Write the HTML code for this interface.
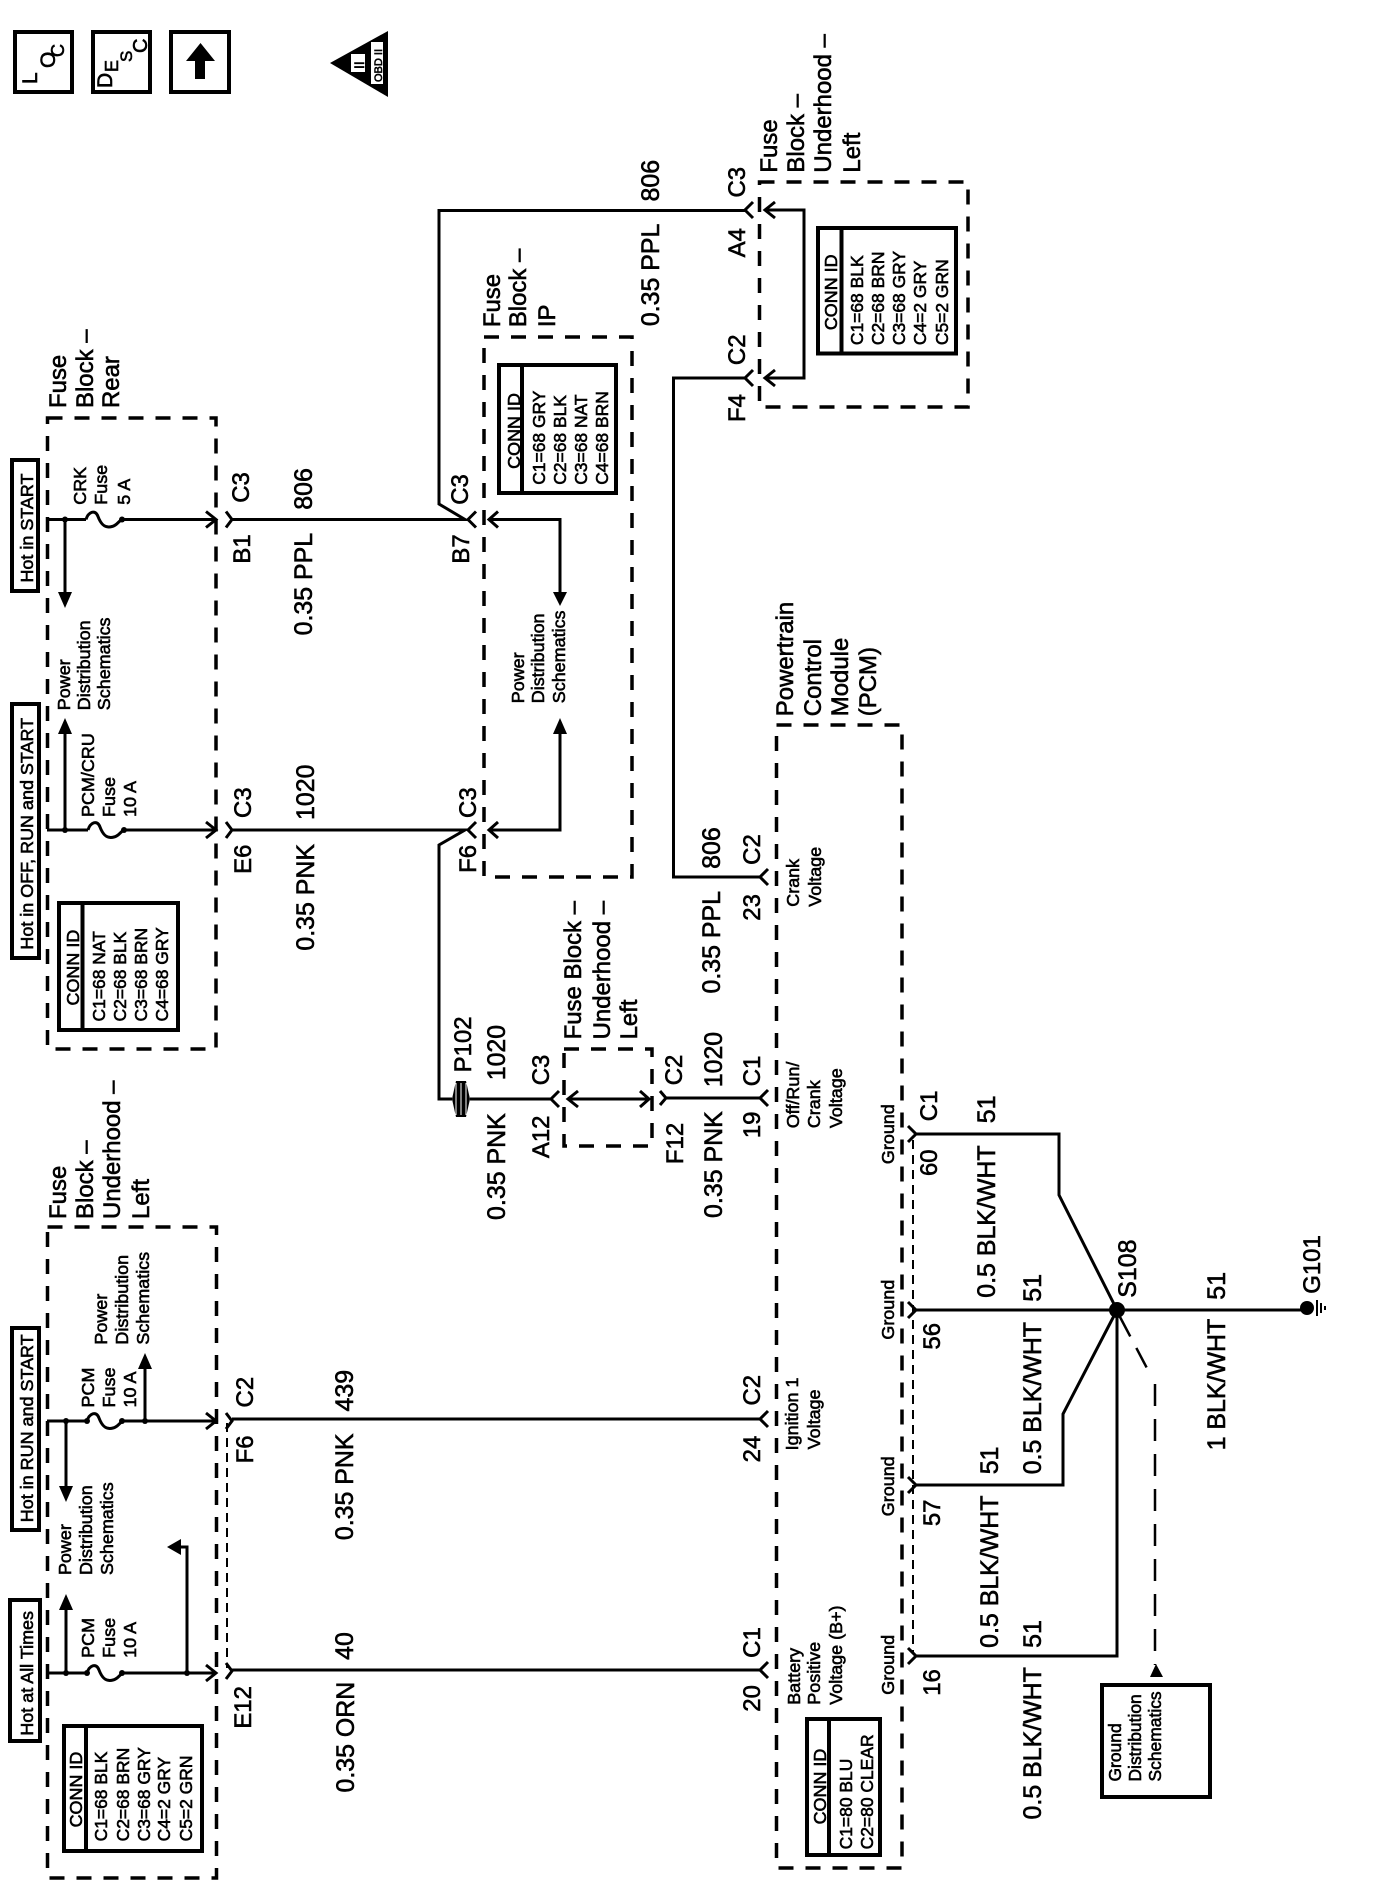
<!DOCTYPE html>
<html><head><meta charset="utf-8">
<style>
html,body{margin:0;padding:0;background:#fff}
svg{display:block}
text{font-family:"Liberation Sans",sans-serif;fill:#000;stroke:#000;stroke-width:.6}
.a{font-size:24px}.b{font-size:25px}.c{font-size:18px}.d{font-size:17.5px}
.w{fill:none;stroke:#000;stroke-width:3}
.t{fill:none;stroke:#000;stroke-width:4}
.x{fill:none;stroke:#000;stroke-width:3.5;stroke-dasharray:15 12}
.n{fill:none;stroke:#000;stroke-width:2;stroke-dasharray:9 6}
</style></head><body>
<svg xmlns="http://www.w3.org/2000/svg" width="1376" height="1900" viewBox="0 0 1376 1900">
<rect width="1376" height="1900" fill="#fff"/>
<!-- icons -->
<rect class="t" x="15" y="32" width="57" height="60"/>
<rect class="t" x="93" y="32" width="57" height="60"/>
<rect class="t" x="171" y="32" width="58" height="60"/>
<polygon points="200.5,43 215,61 205,61 205,79 195,79 195,61 186,61"/>
<text transform="translate(37 84)rotate(-90)" style="font-size:21px">L</text>
<text transform="translate(55 68)rotate(-90)" style="font-size:21px">O</text>
<text transform="translate(64 57)rotate(-90)" style="font-size:18px">C</text>
<text transform="translate(112 88)rotate(-90)" style="font-size:21px">D</text>
<text transform="translate(118 72)rotate(-90)" style="font-size:18px">E</text>
<text transform="translate(132 62)rotate(-90)" style="font-size:17px">S</text>
<text transform="translate(147 53)rotate(-90)" style="font-size:20px">C</text>
<polygon points="330,63 388,31 388,97"/>
<rect x="371" y="42" width="12" height="42" fill="#fff"/>
<rect x="351" y="54" width="14" height="18" fill="#fff"/>
<text transform="translate(382 82)rotate(-90)" style="font-size:11px">OBD II</text>
<text transform="translate(364 69)rotate(-90)" style="font-size:14px">II</text>

<!-- dashed boxes -->
<rect class="x" x="47.5" y="418" width="168.5" height="631"/>
<rect class="x" x="484" y="337" width="148" height="540"/>
<rect class="x" x="759.5" y="182" width="208.5" height="225"/>
<rect class="x" x="564" y="1049" width="88" height="97"/>
<rect class="x" x="47.5" y="1227" width="169" height="651"/>
<rect class="x" x="776.5" y="725" width="125.5" height="1143"/>
<path class="n" d="M227 1423V1668M913 1140V1652"/>

<!-- hot boxes -->
<rect class="t" x="12" y="460" width="26" height="131"/>
<rect class="t" x="12" y="704" width="27" height="254"/>
<rect class="t" x="12" y="1328" width="27" height="202"/>
<rect class="t" x="10" y="1600" width="30" height="141"/>

<!-- wire CRK -->
<path class="w" d="M47 519.5H86M122 519.5H216M206 511.5L216 519.5L206 527.5"/>
<path class="w" d="M226 511.5L232 519.5L226 527.5M232 519.5H465L439 504V210.5H745"/>
<path class="w" d="M476 511.5L468 519.5L476 527.5"/>
<path class="w" d="M498 511.5L489 519.5L498 527.5M489 519.5H560V595"/>
<polygon points="560,606 553,592 567,592"/>
<path class="w" d="M65 519.5V595"/>
<polygon points="65,608 58,592 72,592"/>
<path class="w" d="M86 519.5c2,-7 9,-11 12,-3c3,8 7,12 14,10c5,-1 6,-5 10,-7"/>
<circle cx="65" cy="519.5" r="3"/><circle cx="122" cy="519.5" r="3"/>

<!-- wire PCM/CRU -->
<path class="w" d="M47 830H88M124 830H216M206 822L216 830L206 838"/>
<path class="w" d="M226 822L232 830L226 838M232 830H465L439 845V1099H452"/>
<path class="w" d="M476 822L468 830L476 838"/>
<path class="w" d="M498 822L489 830L498 838M489 830H560V730"/>
<polygon points="560,718 553,734 567,734"/>
<path class="w" d="M65 830V730"/>
<polygon points="65,718 58,734 72,734"/>
<path class="w" d="M88 830c2,-7 9,-11 12,-3c3,8 7,12 14,10c5,-1 6,-5 10,-7"/>
<circle cx="65" cy="830" r="3"/><circle cx="124" cy="830" r="3"/>

<!-- P102 -->
<path d="M452 1099L456 1081H466L470 1099L466 1117H456Z" fill="#000"/>
<path d="M456 1083V1115M461 1083V1115M466 1083V1115" stroke="#fff" stroke-width="1"/>
<path class="w" d="M470 1099H551M559 1091L551 1099L559 1107"/>
<path class="w" d="M578 1091L568 1099L578 1107M568 1099H649M640 1091L649 1099L640 1107"/>
<path class="w" d="M660 1091L666 1098L660 1105M666 1098H760M768 1090L760 1098L768 1106"/>

<!-- right side 806 -->
<path class="w" d="M753 202L745 210L753 218"/>
<path class="w" d="M775 202L765 210L775 218M765 210H804V378H765M775 370L765 378L775 386"/>
<path class="w" d="M753 370L745 378L753 386M745 378H673.5V877H760M768 869L760 877L768 885"/>

<!-- PCM wires -->
<path class="w" d="M47 1421H87M122 1421H216M206 1413L216 1421L206 1429"/>
<path class="w" d="M226 1413L232 1421L226 1429M232 1419H760M768 1411L760 1419L768 1427"/>
<path class="w" d="M87 1421c2,-7 9,-11 12,-3c3,8 7,12 14,10c5,-1 6,-5 10,-7"/>
<circle cx="87" cy="1421" r="3"/><circle cx="122" cy="1421" r="3"/><circle cx="66" cy="1421" r="3"/><circle cx="145" cy="1421" r="3"/>
<path class="w" d="M145 1421V1366"/>
<polygon points="145,1353 138,1369 152,1369"/>
<path class="w" d="M66 1421V1490"/>
<polygon points="66,1502 59,1486 73,1486"/>

<path class="w" d="M47 1673H87M122 1673H216M206 1665L216 1673L206 1681"/>
<path class="w" d="M226 1663L232 1671L226 1679M232 1670H760M768 1662L760 1670L768 1678"/>
<path class="w" d="M87 1673c2,-7 9,-11 12,-3c3,8 7,12 14,10c5,-1 6,-5 10,-7"/>
<circle cx="87" cy="1673" r="3"/><circle cx="122" cy="1673" r="3"/><circle cx="66" cy="1673" r="3"/><circle cx="187" cy="1673" r="3"/>
<path class="w" d="M66 1673V1608"/>
<polygon points="66,1594 59,1610 73,1610"/>
<path class="w" d="M187 1673V1547H172"/>
<polygon points="167,1547 181,1539 181,1555"/>

<!-- grounds -->
<path class="w" d="M916 1134H1059V1195L1117 1310"/>
<path class="w" d="M908 1126L916 1134L908 1142"/>
<path class="w" d="M916 1310H1306"/>
<path class="w" d="M908 1302L916 1310L908 1318"/>
<path class="w" d="M916 1485H1063V1414L1117 1310"/>
<path class="w" d="M908 1477L916 1485L908 1493"/>
<path class="w" d="M916 1656H1117V1310"/>
<path class="w" d="M908 1648L916 1656L908 1664"/>
<circle cx="1117" cy="1310" r="8"/>
<circle cx="1307" cy="1308" r="7"/>
<path d="M1317 1300V1316M1321 1303V1313M1325 1306V1310" stroke="#000" stroke-width="2"/>
<path d="M1120 1317L1149 1372M1155 1384V1665" style="fill:none;stroke:#000;stroke-width:2.5;stroke-dasharray:22 13"/>
<polygon points="1156,1664 1150,1677 1163,1677"/>
<rect class="t" x="1102" y="1685" width="108" height="112"/>

<!-- conn id boxes -->
<path class="t" d="M59 903H178V1030H59ZM82.5 903V1030"/>
<path class="t" d="M499 365H616V493H499ZM522 365V493"/>
<path class="t" d="M818 228H956V353.5H818ZM841.5 228V353.5"/>
<path class="t" d="M64 1726H202V1851H64ZM86 1726V1851"/>
<path class="t" d="M807 1719H880V1855H807ZM829 1719V1855"/>

<g transform="translate(0 1) scale(1 .9975)">
<text transform="translate(33 583)rotate(-90)" class="c">Hot in START</text>
<text transform="translate(33 951)rotate(-90)" class="c">Hot in OFF, RUN and START</text>
<text transform="translate(33 1525)rotate(-90)" class="c">Hot in RUN and START</text>
<text transform="translate(33 1739)rotate(-90)" class="c">Hot at All Times</text>
<!-- box labels -->
<text transform="translate(66 408)rotate(-90)" class="a">Fuse</text>
<text transform="translate(93 408)rotate(-90)" class="a">Block –</text>
<text transform="translate(119 408)rotate(-90)" class="a">Rear</text>
<text transform="translate(500 327)rotate(-90)" class="a">Fuse</text>
<text transform="translate(526 327)rotate(-90)" class="a">Block –</text>
<text transform="translate(555 327)rotate(-90)" class="a">IP</text>
<text transform="translate(777 172)rotate(-90)" class="a">Fuse</text>
<text transform="translate(804 172)rotate(-90)" class="a">Block –</text>
<text transform="translate(831 172)rotate(-90)" class="a">Underhood –</text>
<text transform="translate(860 172)rotate(-90)" class="a">Left</text>
<text transform="translate(66 1221)rotate(-90)" class="a">Fuse</text>
<text transform="translate(93 1221)rotate(-90)" class="a">Block –</text>
<text transform="translate(120 1221)rotate(-90)" class="a">Underhood –</text>
<text transform="translate(149 1221)rotate(-90)" class="a">Left</text>
<text transform="translate(581 1041)rotate(-90)" class="a">Fuse Block –</text>
<text transform="translate(610 1041)rotate(-90)" class="a">Underhood –</text>
<text transform="translate(637 1041)rotate(-90)" class="a">Left</text>
<text transform="translate(793 717)rotate(-90)" class="a">Powertrain</text>
<text transform="translate(821 717)rotate(-90)" class="a">Control</text>
<text transform="translate(848 717)rotate(-90)" class="a">Module</text>
<text transform="translate(876 717)rotate(-90)" class="a">(PCM)</text>

<!-- fuses -->
<text transform="translate(86 505)rotate(-90)" class="c">CRK</text>
<text transform="translate(107 505)rotate(-90)" class="c">Fuse</text>
<text transform="translate(130 505)rotate(-90)" class="c">5 A</text>
<text transform="translate(94 818)rotate(-90)" class="c">PCM/CRU</text>
<text transform="translate(115 818)rotate(-90)" class="c">Fuse</text>
<text transform="translate(136 818)rotate(-90)" class="c">10 A</text>
<text transform="translate(94 1410)rotate(-90)" class="c">PCM</text>
<text transform="translate(115 1410)rotate(-90)" class="c">Fuse</text>
<text transform="translate(136 1410)rotate(-90)" class="c">10 A</text>
<text transform="translate(94 1661)rotate(-90)" class="c">PCM</text>
<text transform="translate(115 1661)rotate(-90)" class="c">Fuse</text>
<text transform="translate(136 1661)rotate(-90)" class="c">10 A</text>

<!-- power distribution -->
<text transform="translate(70 711)rotate(-90)" class="c">Power</text>
<text transform="translate(90 711)rotate(-90)" class="c">Distribution</text>
<text transform="translate(110 711)rotate(-90)" class="c">Schematics</text>
<text transform="translate(524 704)rotate(-90)" class="c">Power</text>
<text transform="translate(544 704)rotate(-90)" class="c">Distribution</text>
<text transform="translate(565 704)rotate(-90)" class="c">Schematics</text>
<text transform="translate(107 1347)rotate(-90)" class="c">Power</text>
<text transform="translate(128 1347)rotate(-90)" class="c">Distribution</text>
<text transform="translate(149 1347)rotate(-90)" class="c">Schematics</text>
<text transform="translate(71 1578)rotate(-90)" class="c">Power</text>
<text transform="translate(92 1578)rotate(-90)" class="c">Distribution</text>
<text transform="translate(113 1578)rotate(-90)" class="c">Schematics</text>
<text transform="translate(1121 1785)rotate(-90)" class="d">Ground</text>
<text transform="translate(1141 1785)rotate(-90)" class="d">Distribution</text>
<text transform="translate(1161 1785)rotate(-90)" class="d">Schematics</text>

<!-- conn id text -->
<text transform="translate(79 1007)rotate(-90)" class="c">CONN ID</text>
<text transform="translate(105 1023)rotate(-90)" class="d">C1=68 NAT</text>
<text transform="translate(126 1023)rotate(-90)" class="d">C2=68 BLK</text>
<text transform="translate(147 1023)rotate(-90)" class="d">C3=68 BRN</text>
<text transform="translate(168 1023)rotate(-90)" class="d">C4=68 GRY</text>
<text transform="translate(520 469)rotate(-90)" class="c">CONN ID</text>
<text transform="translate(545 485)rotate(-90)" class="d">C1=68 GRY</text>
<text transform="translate(566 485)rotate(-90)" class="d">C2=68 BLK</text>
<text transform="translate(587 485)rotate(-90)" class="d">C3=68 NAT</text>
<text transform="translate(608 485)rotate(-90)" class="d">C4=68 BRN</text>
<text transform="translate(837 330)rotate(-90)" class="c">CONN ID</text>
<text transform="translate(863 345)rotate(-90)" class="d">C1=68 BLK</text>
<text transform="translate(884 345)rotate(-90)" class="d">C2=68 BRN</text>
<text transform="translate(905 345)rotate(-90)" class="d">C3=68 GRY</text>
<text transform="translate(926 345)rotate(-90)" class="d">C4=2 GRY</text>
<text transform="translate(948 345)rotate(-90)" class="d">C5=2 GRN</text>
<text transform="translate(82 1831)rotate(-90)" class="c">CONN ID</text>
<text transform="translate(107 1845)rotate(-90)" class="d">C1=68 BLK</text>
<text transform="translate(129 1845)rotate(-90)" class="d">C2=68 BRN</text>
<text transform="translate(150 1845)rotate(-90)" class="d">C3=68 GRY</text>
<text transform="translate(170 1845)rotate(-90)" class="d">C4=2 GRY</text>
<text transform="translate(192 1845)rotate(-90)" class="d">C5=2 GRN</text>
<text transform="translate(826 1828)rotate(-90)" class="c">CONN ID</text>
<text transform="translate(852 1853)rotate(-90)" class="d">C1=80 BLU</text>
<text transform="translate(873 1853)rotate(-90)" class="d">C2=80 CLEAR</text>

<!-- wire / connector labels -->
<text transform="translate(249 503)rotate(-90)" class="a">C3</text>
<text transform="translate(250 564)rotate(-90)" class="a">B1</text>
<text transform="translate(312 510)rotate(-90)" class="b">806</text>
<text transform="translate(312 636)rotate(-90)" class="b">0.35 PPL</text>
<text transform="translate(468 505)rotate(-90)" class="a">C3</text>
<text transform="translate(469 564)rotate(-90)" class="a">B7</text>
<text transform="translate(659 201)rotate(-90)" class="b">806</text>
<text transform="translate(659 326)rotate(-90)" class="b">0.35 PPL</text>
<text transform="translate(745 197)rotate(-90)" class="a">C3</text>
<text transform="translate(745 257)rotate(-90)" class="a">A4</text>
<text transform="translate(745 365)rotate(-90)" class="a">C2</text>
<text transform="translate(745 422)rotate(-90)" class="a">F4</text>

<text transform="translate(251 819)rotate(-90)" class="a">C3</text>
<text transform="translate(251 875)rotate(-90)" class="a">E6</text>
<text transform="translate(314 821)rotate(-90)" class="b">1020</text>
<text transform="translate(314 952)rotate(-90)" class="b">0.35 PNK</text>
<text transform="translate(476 819)rotate(-90)" class="a">C3</text>
<text transform="translate(476 874)rotate(-90)" class="a">F6</text>
<text transform="translate(471 1074)rotate(-90)" class="a">P102</text>
<text transform="translate(505 1082)rotate(-90)" class="b">1020</text>
<text transform="translate(505 1222)rotate(-90)" class="b">0.35 PNK</text>
<text transform="translate(549 1087)rotate(-90)" class="a">C3</text>
<text transform="translate(549 1160)rotate(-90)" class="a">A12</text>
<text transform="translate(682 1087)rotate(-90)" class="a">C2</text>
<text transform="translate(683 1166)rotate(-90)" class="a">F12</text>

<text transform="translate(720 870)rotate(-90)" class="b">806</text>
<text transform="translate(720 995)rotate(-90)" class="b">0.35 PPL</text>
<text transform="translate(760 866)rotate(-90)" class="a">C2</text>
<text transform="translate(760 922)rotate(-90)" class="a">23</text>
<text transform="translate(799 908)rotate(-90)" class="c">Crank</text>
<text transform="translate(821 908)rotate(-90)" class="c">Voltage</text>
<text transform="translate(722 1089)rotate(-90)" class="b">1020</text>
<text transform="translate(722 1220)rotate(-90)" class="b">0.35 PNK</text>
<text transform="translate(760 1088)rotate(-90)" class="a">C1</text>
<text transform="translate(760 1140)rotate(-90)" class="a">19</text>
<text transform="translate(799 1130)rotate(-90)" class="c">Off/Run/</text>
<text transform="translate(820 1130)rotate(-90)" class="c">Crank</text>
<text transform="translate(842 1130)rotate(-90)" class="c">Voltage</text>

<text transform="translate(894 1166)rotate(-90)" class="c">Ground</text>
<text transform="translate(937 1123)rotate(-90)" class="a">C1</text>
<text transform="translate(937 1178)rotate(-90)" class="a">60</text>
<text transform="translate(995 1125)rotate(-90)" class="b">51</text>
<text transform="translate(995 1300)rotate(-90)" class="b">0.5 BLK/WHT</text>
<text transform="translate(1136 1300)rotate(-90)" class="b">S108</text>
<text transform="translate(1320 1296)rotate(-90)" class="a">G101</text>
<text transform="translate(1041 1304)rotate(-90)" class="b">51</text>
<text transform="translate(1225 1302)rotate(-90)" class="b">51</text>
<text transform="translate(1225 1453)rotate(-90)" class="b">1 BLK/WHT</text>
<text transform="translate(1041 1477)rotate(-90)" class="b">0.5 BLK/WHT</text>
<text transform="translate(998 1477)rotate(-90)" class="b">51</text>
<text transform="translate(998 1651)rotate(-90)" class="b">0.5 BLK/WHT</text>
<text transform="translate(1041 1651)rotate(-90)" class="b">51</text>
<text transform="translate(1041 1823)rotate(-90)" class="b">0.5 BLK/WHT</text>
<text transform="translate(894 1342)rotate(-90)" class="c">Ground</text>
<text transform="translate(894 1519)rotate(-90)" class="c">Ground</text>
<text transform="translate(894 1698)rotate(-90)" class="c">Ground</text>
<text transform="translate(940 1352)rotate(-90)" class="a">56</text>
<text transform="translate(940 1529)rotate(-90)" class="a">57</text>
<text transform="translate(940 1699)rotate(-90)" class="a">16</text>

<text transform="translate(253 1410)rotate(-90)" class="a">C2</text>
<text transform="translate(253 1466)rotate(-90)" class="a">F6</text>
<text transform="translate(353 1414)rotate(-90)" class="b">439</text>
<text transform="translate(353 1543)rotate(-90)" class="b">0.35 PNK</text>
<text transform="translate(353 1663)rotate(-90)" class="b">40</text>
<text transform="translate(354 1796)rotate(-90)" class="b">0.35 ORN</text>
<text transform="translate(251 1732)rotate(-90)" class="a">E12</text>
<text transform="translate(760 1408)rotate(-90)" class="a">C2</text>
<text transform="translate(760 1465)rotate(-90)" class="a">24</text>
<text transform="translate(798 1453)rotate(-90)" class="c">Ignition 1</text>
<text transform="translate(820 1452)rotate(-90)" class="c">Voltage</text>
<text transform="translate(760 1661)rotate(-90)" class="a">C1</text>
<text transform="translate(760 1715)rotate(-90)" class="a">20</text>
<text transform="translate(800 1708)rotate(-90)" class="c">Battery</text>
<text transform="translate(820 1708)rotate(-90)" class="c">Positive</text>
<text transform="translate(842 1708)rotate(-90)" class="c">Voltage (B+)</text>
</g>
</svg>
</body></html>
